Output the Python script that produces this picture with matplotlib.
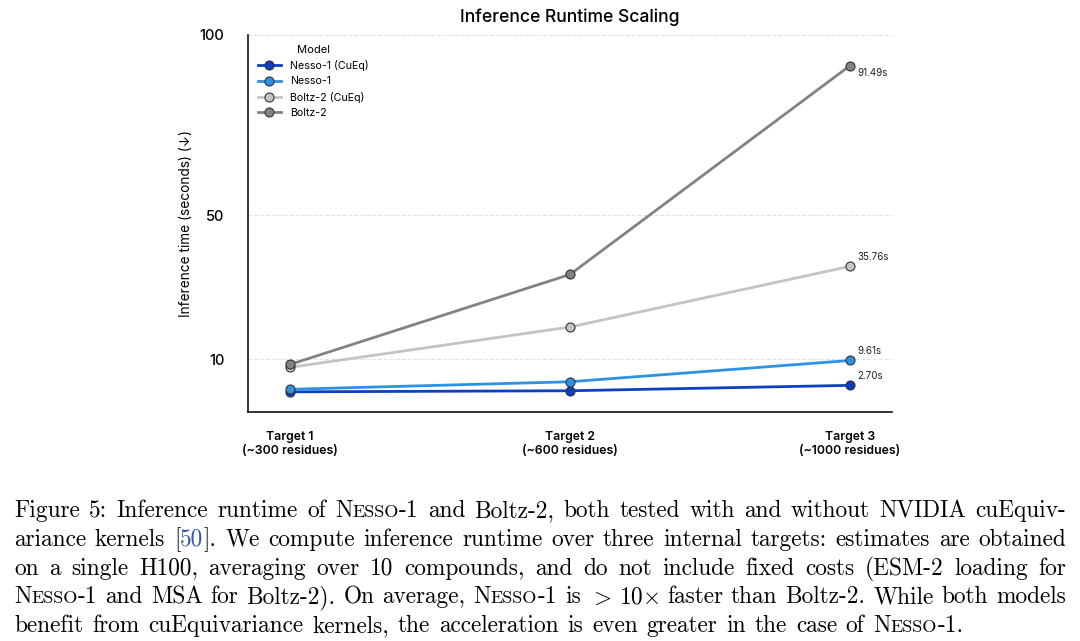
import matplotlib
matplotlib.use("Agg")
import matplotlib.pyplot as plt

# data
targets = ["Target 1\n(~300 residues)", "Target 2\n(~600 residues)", "Target 3\n(~1000 residues)"]
models = ["Nesso-1 (CuEq)", "Nesso-1", "Boltz-2 (CuEq)", "Boltz-2"]
nesso_cueq = [0.9, 1.2, 2.70]
nesso = [1.6, 3.7, 9.61]
boltz_cueq = [7.7, 18.9, 35.76]
boltz = [8.5, 33.5, 91.49]
colors = ["#0b3fc4", "#2d92e2", "#c4c4c4", "#828282"]
yticks = [10, 50, 100]

caption = [
    "Figure 5: Inference runtime of NESSO-1 and Boltz-2, both tested with and without NVIDIA cuEquiv-",
    "ariance kernels [50]. We compute inference runtime over three internal targets: estimates are obtained",
    "on a single H100, averaging over 10 compounds, and do not include fixed costs (ESM-2 loading for",
    "NESSO-1 and MSA for Boltz-2). On average, NESSO-1 is $>$ 10$\\times$ faster than Boltz-2. While both models",
    "benefit from cuEquivariance kernels, the acceleration is even greater in the case of NESSO-1.",
]

plt.rcParams["font.family"] = ["Inter", "DejaVu Sans"]
plt.rcParams["mathtext.fontset"] = "cm"

fig = plt.figure(figsize=(10.8, 6.41), dpi=100)
ax = fig.add_axes([248 / 1080, 1 - 412 / 641, (892 - 248) / 1080, (412 - 35) / 641])

x = list(range(len(targets)))
series = [nesso_cueq, nesso, boltz_cueq, boltz]
for vals, name, c in zip(series, models, colors):
    ax.plot(x, vals, color=c, lw=2, marker="o", ms=6.5, mfc=c, mec="#333333", mew=0.8,
            label=name, zorder=3)

# value labels at the last target
ax.annotate(f"{boltz[-1]:.2f}s", (x[-1], boltz[-1]), xytext=(5, -5), textcoords="offset points",
            fontsize=7, va="center", color="#222222")
for vals in [boltz_cueq, nesso, nesso_cueq]:
    ax.annotate(f"{vals[-1]:.2f}s", (x[-1], vals[-1]), xytext=(5, 7), textcoords="offset points",
                fontsize=7, va="center", color="#222222")

ax.set_xlim(-0.15, 2.15)
ax.set_ylim(-4.7, 100)
ax.set_yticks(yticks)
ax.set_yticklabels([str(v) for v in yticks], fontsize=10.5, fontweight="medium")
ax.set_xticks(x)
ax.set_xticklabels(targets, fontsize=8.8, fontweight="semibold")
ax.tick_params(axis="both", length=0)
ax.tick_params(axis="x", pad=14)
ax.tick_params(axis="y", pad=17)
ax.grid(axis="y", color="#dde3ee", ls="--", lw=0.8)
ax.set_axisbelow(True)
for s in ["top", "right"]:
    ax.spines[s].set_visible(False)
for s in ["left", "bottom"]:
    ax.spines[s].set_linewidth(1.2)
    ax.spines[s].set_color("#111111")

ax.set_ylabel("Inference time (seconds) (\u2193)", fontsize=9.8, labelpad=5)
ax.set_title("Inference Runtime Scaling", fontsize=12.6, fontweight="medium", pad=9)

leg = ax.legend(title="Model", loc="upper left", frameon=False, fontsize=7.7,
                title_fontsize=8, handlelength=2.2, borderaxespad=0.5, labelspacing=0.5)

# caption, drawn word by word so it can be justified
renderer = fig.canvas.get_renderer()
cap_size = 16.8
sc = 0.78
left, right = 14, 1066
base0, step = 517, 28.8


def word_runs(w):
    if "NESSO" in w:
        i = w.index("NESSO")
        runs = []
        if i > 0:
            runs.append((w[:i], 1, "black"))
        runs.append(("N", 1, "black"))
        runs.append(("ESSO", sc, "black"))
        if w[i + 5:]:
            runs.append((w[i + 5:], 1, "black"))
        return runs
    if w.startswith("[50]"):
        return [("[", 1, "black"), ("50", 1, "#3355aa"), (w[3:], 1, "black")]
    return [(w, 1, "black")]


def draw_word(w, xpx, ypx, draw=True):
    width = 0
    for txt, f, col in word_runs(w):
        t = fig.text((xpx + width) / 1080, 1 - ypx / 641, txt, fontsize=cap_size * f,
                     family=["cmr10", "DejaVu Serif"], color=col, va="baseline", ha="left")
        width += t.get_window_extent(renderer).width
        if not draw:
            t.remove()
    return width


for k, line in enumerate(caption):
    words = line.split(" ")
    y = base0 + k * step
    widths = [draw_word(w, 0, y, draw=False) for w in words]
    if k < len(caption) - 1:
        gap = (right - left - sum(widths)) / (len(words) - 1)
    else:
        gap = 0.38 * cap_size * 100 / 72
    xp = left
    for w, wd in zip(words, widths):
        draw_word(w, xp, y)
        xp += wd + gap

fig.savefig("out.png", dpi=100)
